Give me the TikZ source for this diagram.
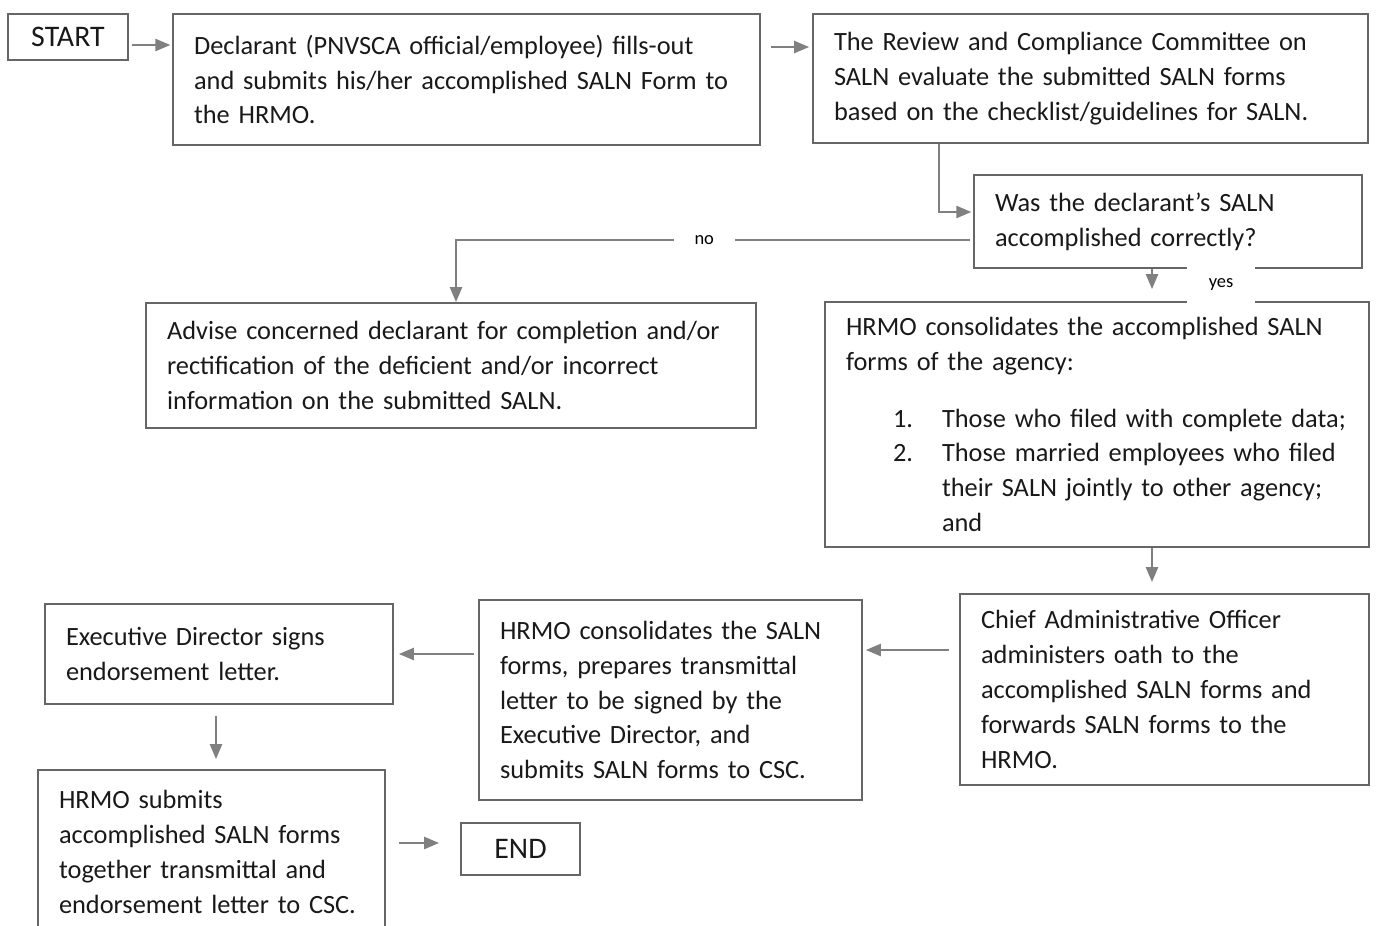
\documentclass[tikz,border=0pt]{standalone}
\usepackage{fontspec}
\setmainfont{Carlito}
\usetikzlibrary{positioning, shapes}
\usetikzlibrary{arrows.meta}

\begin{document}
\begin{tikzpicture}[x=0.02cm, y=-0.02cm]
            \tikzset{box/.style = {draw=black!60, line width=1pt, rectangle, align=left, inner xsep=0.42cm, inner ysep=0pt, text=black!90, font=\fontsize{15}{19.8}\selectfont}}
            \tikzset{endbox/.style = {box, align=center, font=\fontsize{17}{20}\selectfont}}
            \tikzset{edge/.style = {-{Triangle[length=0.3cm, width=0.24cm]}, draw=black!50, line width=1.3pt}}
            \tikzset{lbl/.style = {fill=white, inner ysep=2pt, font=\fontsize{10.5}{12}\selectfont}}

            \useasboundingbox (0,0) rectangle (1380,926);

            % top row
            \node[endbox, minimum width=2.4cm, minimum height=0.92cm] (start) at (68, 37) {START};
            \node[box, text width=10.9cm, minimum height=2.62cm] (declare) at (466.5, 79.5) {Declarant (PNVSCA official/employee) fills-out\\ and submits his/her accomplished SALN Form to\\ the HRMO.};
            \node[box, text width=10.26cm, minimum height=2.58cm] (review) at (1090.5, 78.5) {The Review and Compliance Committee on\\ SALN evaluate the submitted SALN forms\\ based on the checklist/guidelines for SALN.};
            \node[box, text width=6.92cm, minimum height=1.86cm] (check) at (1168, 221.5) {Was the declarant's SALN\\ accomplished correctly?};

            % middle row
            \node[box, text width=11.36cm, minimum height=2.5cm] (advise) at (451, 365.5) {Advise concerned declarant for completion and/or\\ rectification of the deficient and/or incorrect\\ information on the submitted SALN.};
            \node[box, text width=10.04cm, minimum height=4.9cm] (consolidate) at (1097, 424.5) {HRMO consolidates the accomplished SALN\\ forms of the agency:\\[0.44cm]
                \hspace*{0.94cm}\makebox[0.98cm][l]{1.}Those who filed with complete data;\\
                \hspace*{0.94cm}\makebox[0.98cm][l]{2.}Those married employees who filed\\
                \hspace*{1.92cm}their SALN jointly to other agency;\\
                \hspace*{1.92cm}and};

            % bottom rows
            \node[box, text width=7.34cm, minimum height=3.82cm] (chief) at (1164.5, 689.5) {Chief Administrative Officer\\ administers oath to the\\ accomplished SALN forms and\\ forwards SALN forms to the\\ HRMO.};
            \node[box, text width=6.82cm, minimum height=4.0cm] (transmit) at (670.5, 700) {HRMO consolidates the SALN\\ forms, prepares transmittal\\ letter to be signed by the\\ Executive Director, and\\ submits SALN forms to CSC.};
            \node[box, text width=6.12cm, minimum height=2.0cm] (signs) at (219, 654) {Executive Director signs\\ endorsement letter.};
            \node[box, text width=6.1cm, minimum height=3.28cm] (submit) at (211.5, 852) {HRMO submits\\ accomplished SALN forms\\ together transmittal and\\ endorsement letter to CSC.};
            \node[endbox, minimum width=2.38cm, minimum height=1.04cm] (end) at (520.5, 849) {END};

            % arrows
            \draw[edge, shorten <=2pt, shorten >=1pt] ([yshift=-0.16cm]start.east) -- ([yshift=-0.16cm]start.east -| declare.west);
            \draw[edge, shorten <=0.2cm, shorten >=0.06cm] ([yshift=0.65cm]declare.east) -- ([yshift=0.65cm]declare.east -| review.west);
            \draw[edge, shorten >=1pt] ([xshift=2.54cm]review.south west) |- ([yshift=0.19cm]check.west);
            \draw[edge, shorten <=2pt] ([yshift=-0.37cm]check.west) -| node[lbl, pos=0.26, inner xsep=0.42cm] (no) {no} ([xshift=0.1cm]advise.north);
            \draw[edge, shorten >=0.24cm] ([xshift=-0.32cm]check.south) -- ([xshift=-0.32cm]check.south |- consolidate.north);
            \node[lbl, minimum width=1.36cm, minimum height=0.8cm] (yes) at (1221, 285) {yes};
            \draw[edge, shorten >=0.22cm] ([xshift=1.1cm]consolidate.south) -- ([xshift=1.1cm]consolidate.south |- chief.north);
            \draw[edge, shorten <=0.2cm, shorten >=0.06cm] ([yshift=0.79cm]chief.west) -- ([yshift=0.79cm]chief.west -| transmit.east);
            \draw[edge, shorten <=0.08cm, shorten >=0.1cm] ([yshift=0.92cm]transmit.west) -- ([yshift=0.92cm]transmit.west -| signs.east);
            \draw[edge, shorten <=0.22cm, shorten >=0.2cm] ([xshift=-0.06cm]signs.south) -- ([xshift=-0.06cm]signs.south |- submit.north);
            \draw[edge, shorten <=0.26cm, shorten >=0.42cm] ([yshift=0.18cm]submit.east) -- ([yshift=0.18cm]submit.east -| end.west);

        \end{tikzpicture}
\end{document}
